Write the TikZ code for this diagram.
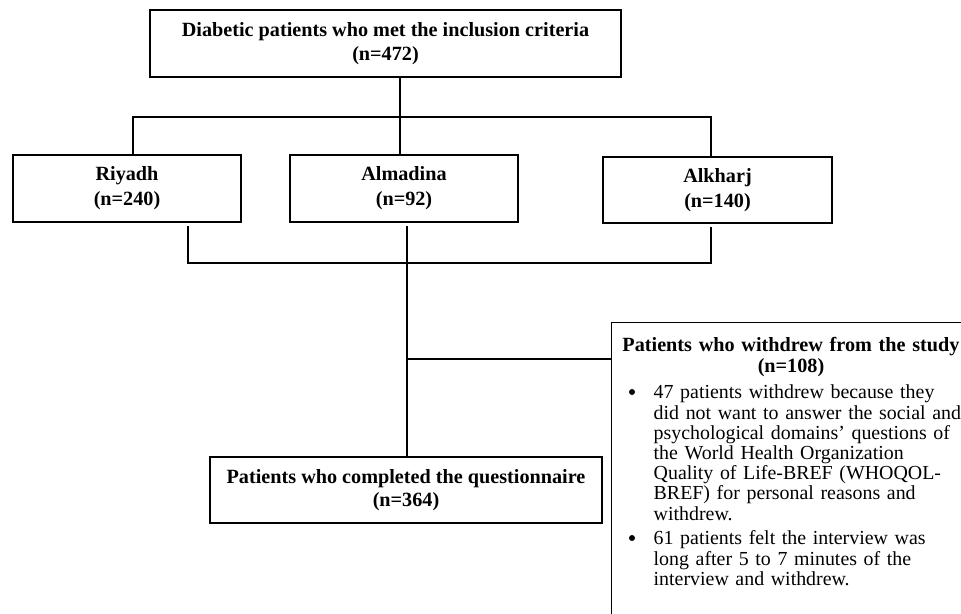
\documentclass[tikz,border=0pt]{standalone}
\usepackage{fontspec}
\setmainfont{Liberation Serif}
\usetikzlibrary{calc}
\begin{document}
\begin{tikzpicture}[x=1bp,y=-1bp,line width=1.4bp,
  box/.style={draw,rectangle,inner sep=0pt,align=center},
  bold/.style={font={\fontsize{20.2bp}{#1}\selectfont\bfseries}},
  body/.style={font={\fontsize{19.9bp}{20.2bp}\selectfont}},
  dot/.style={circle,fill,inner sep=0pt,minimum size=6bp}]
\useasboundingbox (0,0) rectangle (961,614);
\clip (0,0) rectangle (961,614);
% boxes
\node[box,bold=24bp,minimum width=471bp,minimum height=67bp] (top) at (385.5,43.5)
  {Diabetic patients who met the inclusion criteria\\(n=472)};
\node[box,bold=25bp,minimum width=228bp,minimum height=67bp] (riyadh) at (127,188.5)
  {Riyadh\\(n=240)};
\node[box,bold=25bp,minimum width=228bp,minimum height=67bp] (almadina) at (404,188.5)
  {Almadina\\(n=92)};
\node[box,bold=25bp,minimum width=229bp,minimum height=66bp] (alkharj) at (717.5,190)
  {Alkharj\\(n=140)};
\node[box,bold=23.3bp,minimum width=392bp,minimum height=66bp] (completed) at (406,490)
  {Patients who completed the questionnaire\\(n=364)};
\node[draw,rectangle,inner sep=0pt,minimum width=365bp,minimum height=300bp,anchor=north west] (withdraw) at (611,322) {};
% withdraw contents
\node[anchor=north,inner sep=0pt,text width=345bp,align=center,bold=21.5bp] (wh) at (791,335.5)
  {\strut Patients who withdrew from the study\\(n=108)\hspace*{18bp}};
\node[dot] (d1) at (632,392) {};
\node[anchor=north west,inner sep=0pt,text width=320bp,align=left,body] (t1) at (653,384)
  {\strut 47 patients withdrew because they\\
   did not want to answer the social and\\
   psychological domains’ questions of\\
   the World Health Organization\\
   Quality of Life-BREF (WHOQOL-\\
   BREF) for personal reasons and\\
   withdrew.};
\node[dot] (d2) at (632,538) {};
\node[anchor=north west,inner sep=0pt,text width=320bp,align=left,body] (t2) at (653,530)
  {\strut 61 patients felt the interview was\\
   long after 5 to 7 minutes of the\\
   interview and withdrew.};
% connectors
\coordinate (jt) at (400,117);
\coordinate (lt) at (133,117);
\coordinate (rt) at (711,117);
\draw (top.south -| jt) -- (almadina.north -| jt);
\draw (riyadh.north -| lt) -- (lt) -- (rt) -- (alkharj.north -| rt);
\coordinate (lb) at (188,263);
\coordinate (rb) at (711,263);
\coordinate (mb) at (407,263);
\draw ($(riyadh.south -| lb)+(0,3.5)$) -- (lb) -- (rb) -- ($(alkharj.south -| rb)+(0,3.5)$);
\draw ($(almadina.south -| mb)+(0,3.5)$) -- (completed.north -| mb);
\coordinate (br) at (407,359);
\draw (br) -- (withdraw.west |- br);
\end{tikzpicture}
\end{document}
